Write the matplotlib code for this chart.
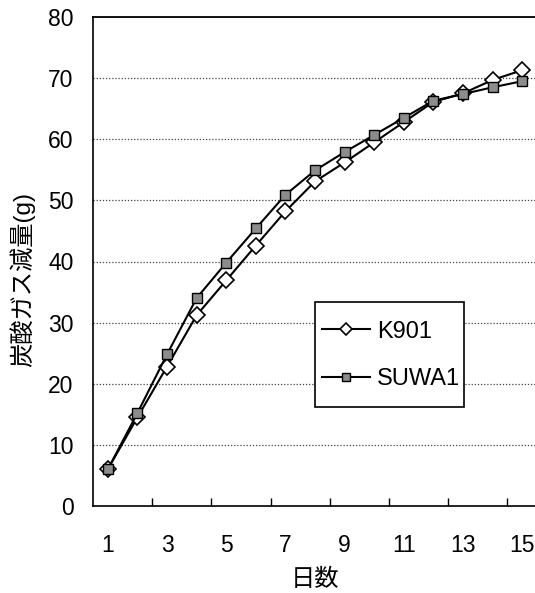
import matplotlib
matplotlib.use("Agg")
import matplotlib.pyplot as plt
from matplotlib.patches import Rectangle

days = list(range(1, 16))
k901 = [6.0, 14.5, 22.8, 31.2, 36.9, 42.6, 48.2, 53.1, 56.2, 59.5, 62.8, 66.1, 67.5, 69.7, 71.3]
suwa1 = [6.0, 15.2, 24.8, 34.0, 39.8, 45.4, 50.9, 54.9, 57.9, 60.7, 63.5, 66.3, 67.4, 68.5, 69.5]
xtick_labels = ["1", "3", "5", "7", "9", "11", "13", "15"]
yticks = [0, 10, 20, 30, 40, 50, 60, 70, 80]
series_names = ["K901", "SUWA1"]

plt.rcParams['font.family'] = ['Liberation Sans', 'Noto Sans CJK JP', 'DejaVu Sans']

W, H = 535, 593
fig = plt.figure(figsize=(W/100, H/100), dpi=100)
ax = fig.add_axes([93/W, 1-506/H, 444/W, 489/H])

ax.plot(days, k901, color='black', lw=1.5, marker='D', markersize=8,
        markerfacecolor='white', markeredgecolor='black', markeredgewidth=1.2,
        label=series_names[0], zorder=3)
ax.plot(days, suwa1, color='black', lw=1.5, marker='s', markersize=7,
        markerfacecolor='#8c8c8c', markeredgecolor='black', markeredgewidth=1.0,
        label=series_names[1], zorder=4)

ax.set_xlim(0.5, 15.5)
ax.set_ylim(0, 80)

# category-style axis: tick marks between categories, labels on odd days
ax.set_xticks([2.5, 4.5, 6.5, 8.5, 10.5, 12.5, 14.5])
ax.set_xticklabels([])
ax.set_xticks([1, 3, 5, 7, 9, 11, 13, 15], minor=True)
ax.set_xticklabels(xtick_labels, minor=True, fontsize=16.5)
ax.tick_params(axis='x', which='major', direction='in', length=6, width=1, color='black')
ax.tick_params(axis='x', which='minor', length=0, pad=20)

ax.set_yticks(yticks)
ax.set_yticklabels([str(v) for v in yticks], fontsize=16.5)
ax.tick_params(axis='y', length=0, pad=14)

for v in yticks[1:-1]:
    ax.axhline(v, color='#444444', lw=0.9, linestyle=(0, (1, 1.5)), zorder=1)

ax.spines['right'].set_visible(False)
ax.spines['top'].set_linestyle((0, (3, 1)))
ax.spines['top'].set_linewidth(1.3)
ax.spines['left'].set_linewidth(1.2)
ax.spines['bottom'].set_linewidth(1.2)

ax.set_xlabel("日数", fontsize=17.5, labelpad=9)
fig.text(22/W, 1-367/H, "炭酸ガス減量(g)", fontsize=17.5, rotation=90,
         ha='center', va='bottom')

# legend box
ax.add_patch(Rectangle((0.5, 0.2025), 0.3356, 0.2147, transform=ax.transAxes,
                       facecolor='white', edgecolor='black', lw=1.2, zorder=5,
                       clip_on=False))
leg = ax.legend(loc='center left', bbox_to_anchor=((322-93)/444, (506-355.5)/489),
                borderaxespad=0, borderpad=0, fontsize=17, frameon=False,
                handlelength=2.03, handletextpad=0.3, labelspacing=1.1,
                markerscale=0.8)
leg.set_zorder(6)

fig.savefig("out.png", dpi=100)
